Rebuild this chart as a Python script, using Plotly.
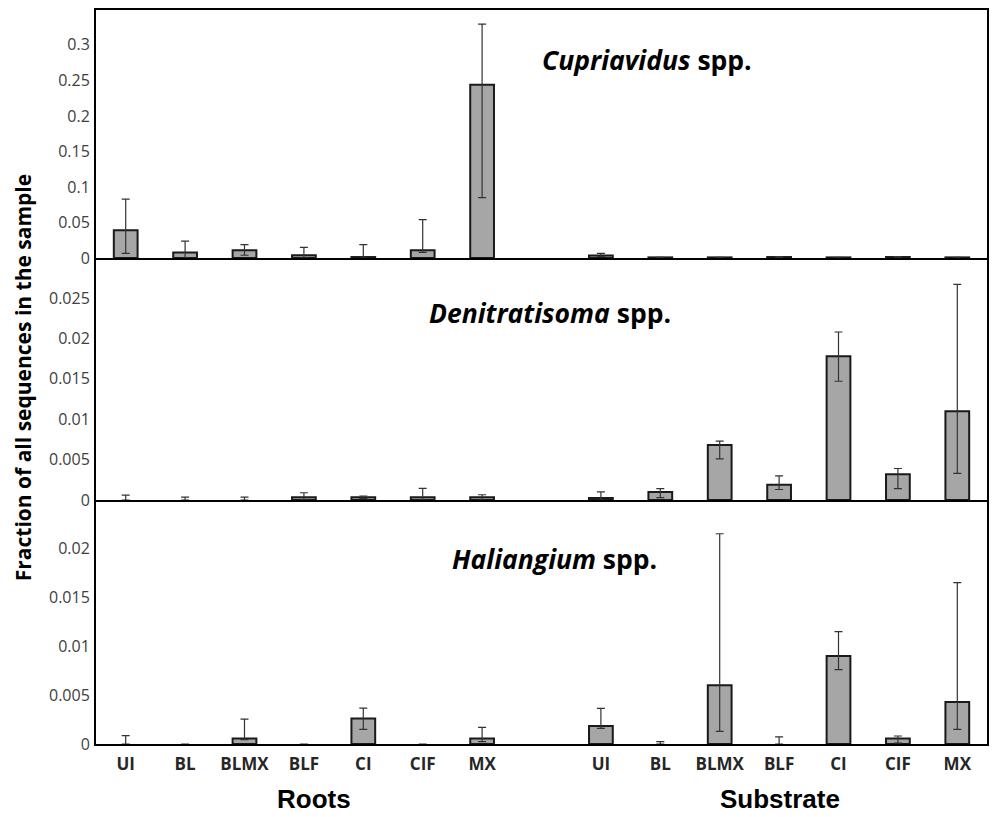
import plotly.graph_objects as go
from plotly.subplots import make_subplots

categories = ["UI", "BL", "BLMX", "BLF", "CI", "CIF", "MX"]
groups = ["Roots", "Substrate"]

# Cupriavidus
cup_roots = [0.039, 0.008, 0.011, 0.004, 0.0015, 0.011, 0.244]
cup_roots_plus = [0.044, 0.016, 0.008, 0.011, 0.0175, 0.043, 0.085]
cup_roots_minus = [0.0324, 0.008, 0.007, 0.004, 0.0015, 0.003, 0.159]
cup_sub = [0.0035, 0.001, 0.001, 0.0015, 0.001, 0.0015, 0.001]
cup_sub_plus = [0.003, 0.0, 0.0, 0.0005, 0.0, 0.0005, 0.0]
cup_sub_minus = [0.001, 0.0, 0.0, 0.0005, 0.0, 0.0005, 0.0]

# Denitratisoma
den_roots = [0.0, 0.0, 0.0, 0.00035, 0.00035, 0.00035, 0.00035]
den_roots_plus = [0.0006, 0.00037, 0.00037, 0.00055, 0.00015, 0.0011, 0.0003]
den_roots_minus = [0.0, 0.0, 0.0, 0.00035, 0.00015, 0.00035, 0.00035]
den_sub = [0.00025, 0.001, 0.0068, 0.0019, 0.0178, 0.0032, 0.011]
den_sub_plus = [0.00075, 0.0004, 0.0005, 0.0011, 0.003, 0.0007, 0.0157]
den_sub_minus = [0.00025, 0.0007, 0.0017, 0.0006, 0.0031, 0.0018, 0.0077]

# Haliangium
hal_roots = [0.0, 0.0, 0.00055, 0.0, 0.0026, 0.0, 0.00055]
hal_roots_plus = [0.00085, 0.0, 0.002, 0.0, 0.00106, 0.0, 0.00115]
hal_roots_minus = [0.0, 0.0, 0.0001, 0.0, 0.0011, 0.0, 0.0003]
hal_sub = [0.00185, 0.0, 0.006, 0.0, 0.009, 0.00055, 0.0043]
hal_sub_plus = [0.0018, 0.00024, 0.0155, 0.00072, 0.0025, 0.00027, 0.0122]
hal_sub_minus = [0.00025, 0.0, 0.0047, 0.0, 0.0014, 0.00045, 0.0028]

panel_titles = ["<b><i>Cupriavidus</i> spp.</b>",
                "<b><i>Denitratisoma</i> spp.</b>",
                "<b><i>Haliangium</i> spp.</b>"]
y_ranges = [[0, 0.349], [0, 0.02995], [0, 0.02495]]
y_dticks = [0.05, 0.005, 0.005]
y_title = "Fraction of all sequences in the sample"

panels = [
    (cup_roots, cup_roots_plus, cup_roots_minus, cup_sub, cup_sub_plus, cup_sub_minus),
    (den_roots, den_roots_plus, den_roots_minus, den_sub, den_sub_plus, den_sub_minus),
    (hal_roots, hal_roots_plus, hal_roots_minus, hal_sub, hal_sub_plus, hal_sub_minus),
]

n = len(categories)
x_roots = list(range(n))
x_sub = [i + n + 1 for i in range(n)]
x_all = x_roots + x_sub
labels_all = categories + categories

fig = make_subplots(rows=3, cols=1, shared_xaxes=False, vertical_spacing=0)

bar_fill = "#a6a6a6"
bar_line = "#1a1a1a"
err_col = "#333333"

for r, (rv, rp, rm, sv, sp, sm) in enumerate(panels, start=1):
    vals = rv + sv
    fig.add_trace(go.Bar(
        x=x_all, y=vals, width=0.4,
        marker=dict(color=bar_fill,
                    line=dict(color=bar_line, width=[2 if v > 0 else 0 for v in vals])),
        error_y=dict(type="data", symmetric=False, array=rp + sp, arrayminus=rm + sm,
                     color=err_col, thickness=1.2, width=4),
        showlegend=False, hoverinfo="skip"), row=r, col=1)

# domains
doms = [[0.662, 1.0], [0.3324, 0.662], [0.0, 0.3324]]
tick_font = dict(family="Open Sans", size=16, color="#404040")
for i in range(3):
    ax = "" if i == 0 else str(i + 1)
    fig.layout["yaxis" + ax].update(
        domain=doms[i], range=y_ranges[i], tickmode="linear", tick0=0, dtick=y_dticks[i],
        showline=True, linecolor="black", linewidth=2, mirror=True,
        showgrid=False, zeroline=False, ticks="", tickfont=tick_font, ticklabelstandoff=1)
    fig.layout["xaxis" + ax].update(
        range=[-0.5, 2 * n + 0.5], showline=True, linecolor="black", linewidth=2,
        mirror=(i == 0),
        showgrid=False, zeroline=False, ticks="",
        tickmode="array", tickvals=x_all, ticktext=labels_all,
        showticklabels=(i == 2), ticklabelstandoff=4,
        tickfont=dict(family="Open Sans", size=17, color="#262626", weight="bold"))

annotations = []
title_pos = [(0.618, 0.932), (0.5095, 0.587), (0.515, 0.252)]
for t, (xp, yp) in zip(panel_titles, title_pos):
    annotations.append(dict(text=t, x=xp, y=yp, xref="paper", yref="paper",
                            showarrow=False, xanchor="center", yanchor="middle",
                            font=dict(family="Open Sans", size=26.5, color="black")))
annotations.append(dict(text="<b>" + y_title + "</b>", x=-0.0817, y=0.4986, xref="paper",
                        yref="paper", textangle=-90, showarrow=False,
                        xanchor="center", yanchor="middle",
                        font=dict(family="Open Sans", size=21, color="black")))
for g, xp in zip(groups, [0.2452, 0.768]):
    annotations.append(dict(text="<b>" + g + "</b>", x=xp, y=-0.0985, xref="paper",
                            yref="paper", showarrow=False, xanchor="center",
                            yanchor="bottom",
                            font=dict(family="Liberation Sans", size=26, color="black")))

fig.update_layout(
    width=992, height=817, margin=dict(l=96, r=3, t=10, b=73),
    paper_bgcolor="white", plot_bgcolor="white", bargap=0.6,
    annotations=annotations)

fig.write_html("out.html")
